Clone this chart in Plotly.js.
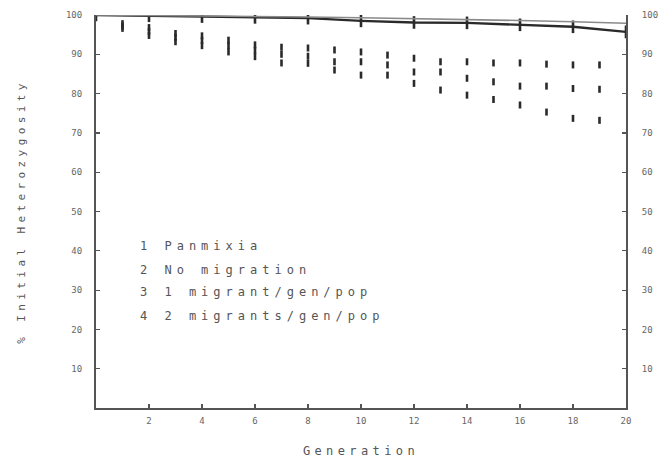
<!DOCTYPE html>
<html>
<head>
<meta charset="utf-8">
<script src="https://cdn.plot.ly/plotly-3.0.1.min.js"></script>
<style>
  html, body { margin: 0; padding: 0; background: #fff; }
  #chart { width: 661px; height: 459px; }
  .annotation-text { letter-spacing: 5px; }
  .g-xtitle text { letter-spacing: 4.4px; }
  .g-ytitle text { letter-spacing: 4.4px; }
</style>
</head>
<body>
<div id="chart"></div>
<script>
// ---- data ----
const lineGens = [0, 2, 4, 6, 8, 10, 12, 14, 16, 18, 20];
const panmixia = [100, 99.8, 99.6, 99.4, 99.2, 98.5, 98.1, 98.0, 97.5, 97.0, 95.7];
const panmixiaExpected = [100, 99.9, 99.8, 99.6, 99.5, 99.3, 99.1, 98.9, 98.6, 98.3, 97.9];

const dotGens = [1, 2, 3, 4, 5, 6, 7, 8, 9, 10, 11, 12, 13, 14, 15, 16, 17, 18, 19];
const noMigration = [96.6, 94.8, 93.2, 92.2, 90.6, 89.4, 87.8, 87.7, 86.0, 84.7, 84.7, 82.6, 80.9, 79.6, 78.5, 77.1, 75.3, 73.7, 73.2];
const oneMigrant  = [97.2, 95.8, 94.3, 93.5, 92.2, 91.0, 90.0, 89.5, 88.1, 88.1, 87.3, 85.5, 85.5, 83.9, 83.0, 81.9, 81.9, 81.3, 81.1];
const twoMigrants = [97.8, 96.8, 95.3, 94.7, 93.6, 92.4, 91.8, 91.6, 91.1, 90.6, 89.8, 89.0, 88.1, 88.1, 87.8, 87.8, 87.5, 87.3, 87.3];

const legendLabels = ["1 Panmixia", "2 No migration", "3 1 migrant/gen/pop", "4 2 migrants/gen/pop"];
const yTicks = [10, 20, 30, 40, 50, 60, 70, 80, 90, 100];
const xTicks = [2, 4, 6, 8, 10, 12, 14, 16, 18, 20];

// ---- styling ----
const mono = "DejaVu Sans Mono";
const ink = "#2a2a2a";

function dots(name, ys) {
  return {
    type: "scatter", mode: "markers", name: name,
    x: dotGens, y: ys,
    marker: { symbol: "line-ns-open", size: 5, color: ink, line: { width: 2.6, color: ink } },
    hoverinfo: "x+y"
  };
}

const traces = [
  {
    type: "scatter", mode: "lines", name: "Panmixia (expected)",
    x: lineGens, y: panmixiaExpected, yaxis: "y2",
    line: { color: "#8a8a8a", width: 1.6 }
  },
  {
    type: "scatter", mode: "lines+markers", name: "Panmixia",
    x: lineGens, y: panmixia,
    line: { color: ink, width: 2.4 },
    marker: { symbol: "line-ns-open", size: 9, color: ink, line: { width: 2.6, color: ink } }
  },
  dots("No migration", noMigration),
  dots("1 migrant/gen/pop", oneMigrant),
  dots("2 migrants/gen/pop", twoMigrants)
];

const legendY = [0.412, 0.35, 0.294, 0.235];
const annotations = legendLabels.map((t, i) => ({
  xref: "paper", yref: "paper", x: 0.08, y: legendY[i],
  xanchor: "left", yanchor: "middle", showarrow: false,
  text: t, font: { family: mono, size: 12, color: "#555" }
}));

const axisCommon = {
  showgrid: false, zeroline: false, showline: true,
  linecolor: "#555", linewidth: 2,
  ticks: "inside", ticklen: 4, tickwidth: 1.2, tickcolor: "#555",
  tickfont: { family: mono, size: 9, color: "#666" }
};

const layout = {
  width: 661, height: 459,
  margin: { l: 96, r: 35, t: 15, b: 51 },
  paper_bgcolor: "#fff", plot_bgcolor: "#fff",
  showlegend: false,
  xaxis: Object.assign({}, axisCommon, {
    range: [0, 20], tickvals: xTicks, ticktext: xTicks.map(String),
    ticklabelstandoff: 3,
    title: { text: "Generation", font: { family: mono, size: 12, color: "#555" }, standoff: 22 }
  }),
  yaxis: Object.assign({}, axisCommon, {
    range: [0, 100], tickvals: yTicks, ticktext: yTicks.map(String),
    ticklabelstandoff: 10,
    title: { text: "% Initial Heterozygosity", font: { family: mono, size: 11, color: "#555" }, standoff: 38 }
  }),
  yaxis2: Object.assign({}, axisCommon, {
    range: [0, 100], tickvals: yTicks, ticktext: yTicks.map(String),
    overlaying: "y", side: "right",
    ticklabelstandoff: 12
  }),
  annotations: annotations
};

Plotly.newPlot("chart", traces, layout, { displayModeBar: false, staticPlot: true });
</script>
</body>
</html>
